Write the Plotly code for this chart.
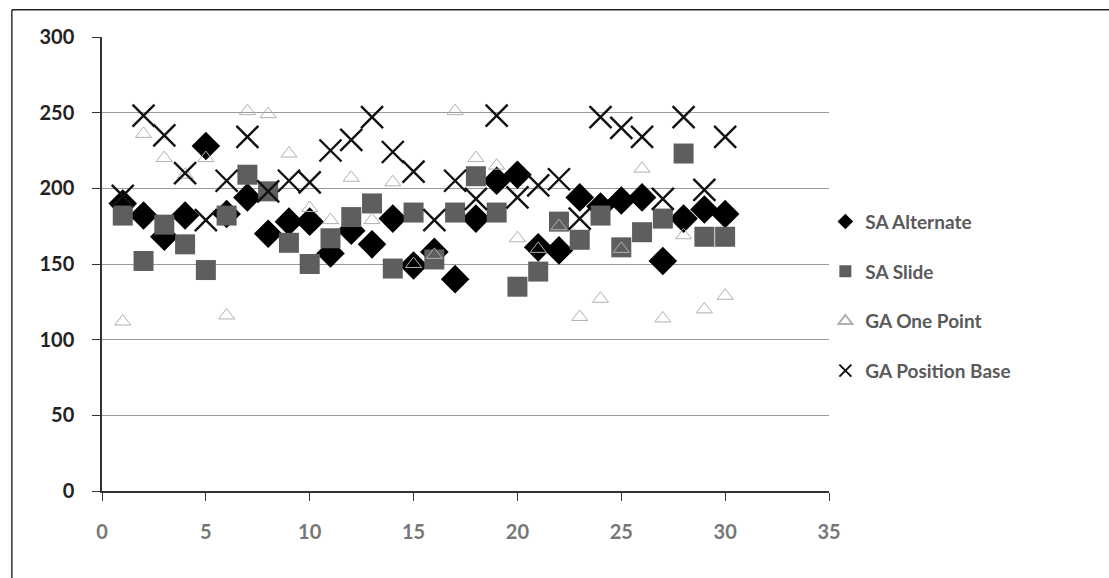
import plotly.graph_objects as go

runs = list(range(1, 31))

sa_alternate = [190, 182, 168, 182, 228, 183, 194, 170, 178, 178,
                157, 172, 163, 180, 149, 158, 140, 180, 205, 209,
                161, 159, 194, 188, 192, 194, 152, 180, 186, 183]
sa_slide = [182, 152, 176, 163, 146, 182, 209, 198, 164, 150,
            167, 181, 190, 147, 184, 153, 184, 208, 184, 135,
            145, 178, 166, 182, 161, 171, 180, 223, 168, 168]
ga_one_point = [112, 236, 220, 209, 220, 116, 251, 249, 223, 187,
                179, 207, 179, 204, 150, 156, 251, 220, 215, 167,
                160, 175, 115, 127, 160, 213, 114, 169, 120, 129]
ga_position_base = [195, 248, 235, 210, 179, 205, 234, 198, 205, 204,
                    225, 232, 247, 224, 211, 179, 205, 193, 248, 194,
                    202, 206, 180, 247, 240, 234, 193, 247, 199, 234]

series_names = ["SA Alternate", "SA Slide", "GA One Point", "GA Position Base"]

FONT = "Lato"

fig = go.Figure()
fig.add_trace(go.Scatter(
    x=runs, y=sa_alternate, mode="markers", name=series_names[0],
    legendgroup="a",
    marker=dict(symbol="diamond", size=22, color="#000000")))
fig.add_trace(go.Scatter(
    x=runs, y=sa_slide, mode="markers", name=series_names[1],
    legendgroup="b",
    marker=dict(symbol="square", size=20, color="#5e5e5e")))
fig.add_trace(go.Scatter(
    x=runs, y=ga_one_point, mode="markers", name=series_names[2],
    legendgroup="c",
    marker=dict(symbol="triangle-up-open", size=14, color="#b0b0b0",
                line=dict(width=1))))
fig.add_trace(go.Scatter(
    x=runs, y=ga_position_base, mode="markers", name=series_names[3],
    legendgroup="d",
    marker=dict(symbol="x-thin-open", size=22, color="#111111",
                line=dict(width=2.4, color="#111111"))))

fig.update_layout(
    width=1109, height=578,
    margin=dict(l=102, r=280, t=37, b=87),
    paper_bgcolor="white", plot_bgcolor="white",
    font=dict(family=FONT, size=17, color="#555555"),
    showlegend=True,
    legend=dict(x=0.995, y=0.635, xanchor="left", yanchor="top",
                font=dict(family=FONT, size=19, color="#5a5a5a", weight="bold"),
                tracegroupgap=22, itemsizing="constant",
                bgcolor="rgba(0,0,0,0)"),
    xaxis=dict(range=[0, 35], dtick=5, tick0=0, showgrid=False,
               showline=True, linecolor="#333333", linewidth=1.5,
               ticks="outside", ticklen=8, tickcolor="#333333",
               ticklabelstandoff=14,
               tickfont=dict(family=FONT, size=20, color="#777777", weight="bold"),
               zeroline=False, fixedrange=True),
    yaxis=dict(range=[0, 300], dtick=50, tick0=0, showgrid=True,
               gridcolor="#9a9a9a", gridwidth=1,
               showline=True, linecolor="#333333", linewidth=1.5,
               ticks="outside", ticklen=8, tickcolor="#333333",
               ticklabelstandoff=14,
               tickfont=dict(family=FONT, size=20, color="#222222", weight="bold"),
               zeroline=False, fixedrange=True),
)

# frame lines of the scanned chart border
fig.add_shape(type="line", xref="paper", yref="paper",
              x0=-0.124, x1=1.40, y0=1.06, y1=1.06,
              line=dict(color="#222222", width=1.5))
fig.add_shape(type="line", xref="paper", yref="paper",
              x0=-0.124, x1=-0.124, y0=1.06, y1=-0.2,
              line=dict(color="#333333", width=1.5))

fig.write_html("out.html")
